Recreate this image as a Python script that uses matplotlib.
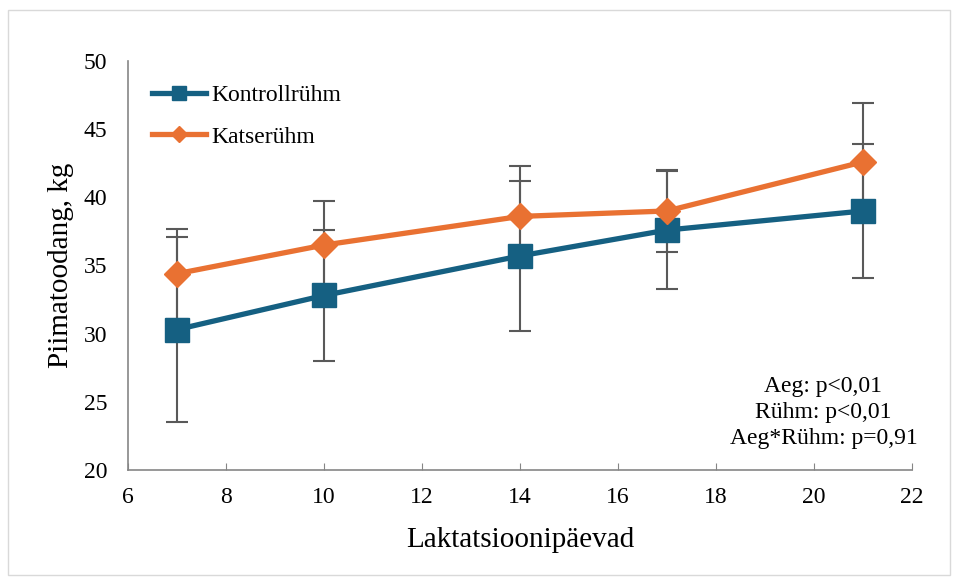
import matplotlib.pyplot as plt
from matplotlib.patches import Rectangle

plt.rcParams['font.family'] = ['Liberation Serif', 'DejaVu Serif']

days = [7, 10, 14, 17, 21]
kontroll = [30.3, 32.8, 35.7, 37.6, 39.0]
kontroll_err = [6.8, 4.8, 5.5, 4.3, 4.9]
katse = [34.4, 36.5, 38.6, 39.0, 42.6]
katse_err = [3.3, 3.2, 3.7, 3.0, 4.3]

blue = '#156082'
orange = '#E97132'
grey = '#595959'

fig = plt.figure(figsize=(9.58, 5.8), dpi=100)
ax = fig.add_axes([0.1336, 0.1897, 0.8184, 0.7051])

fig.patches.append(Rectangle((8 / 958, 5 / 580), 942 / 958, 565 / 580,
                             transform=fig.transFigure, fill=False,
                             edgecolor='#D9D9D9', linewidth=1))

ax.errorbar(days, kontroll, yerr=kontroll_err, fmt='none', ecolor=grey,
            elinewidth=1.5, capsize=8, capthick=1.5, zorder=1)
ax.errorbar(days, katse, yerr=katse_err, fmt='none', ecolor=grey,
            elinewidth=1.5, capsize=8, capthick=1.5, zorder=1)

ax.plot(days, kontroll, color=blue, linewidth=3.8, marker='s', markersize=17,
        label='Kontrollrühm', zorder=3)
ax.plot(days, katse, color=orange, linewidth=3.8, marker='D', markersize=13,
        label='Katserühm', zorder=4)

ax.set_xlim(6, 22)
ax.set_ylim(20, 50)
ax.set_xticks(range(6, 23, 2))
ax.set_yticks(range(20, 51, 5))
ax.tick_params(axis='x', direction='in', length=5, color='#868686', labelsize=17, pad=12)
ax.tick_params(axis='y', length=0, labelsize=17, pad=15)
for s in ['top', 'right']:
    ax.spines[s].set_visible(False)
for s in ['left', 'bottom']:
    ax.spines[s].set_color('#868686')
    ax.spines[s].set_linewidth(1.2)

ax.set_xlabel('Laktatsioonipäevad', fontsize=21, labelpad=14)
ax.set_ylabel('Piimatoodang, kg', fontsize=21, labelpad=7)

ax.legend(loc='upper left', frameon=False,
          fontsize=17, markerscale=0.6, handlelength=2.3, handletextpad=0.25,
          labelspacing=0.85, borderaxespad=0.6)

ax.text(0.887, 0.14, 'Aeg: p<0,01\nRühm: p<0,01\nAeg*Rühm: p=0,91',
        transform=ax.transAxes, ha='center', va='center', fontsize=17,
        linespacing=1.3)

fig.savefig('out.png', dpi=100)
